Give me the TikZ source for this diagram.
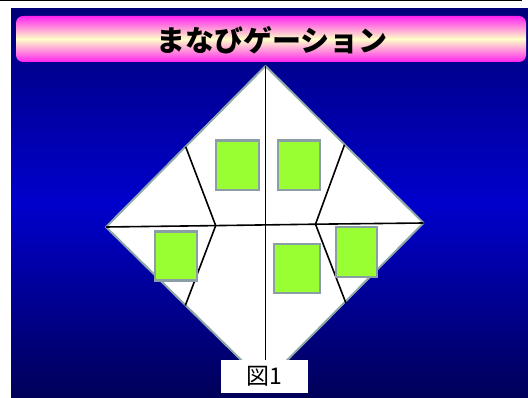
\documentclass[tikz,border=0pt]{standalone}
\usepackage{fontspec}
\newfontfamily\cjk{Noto Sans CJK JP}
\definecolor{bgtop}{HTML}{000078}
\definecolor{bgmid}{HTML}{0000CC}
\definecolor{bgbot}{HTML}{000058}
\definecolor{titlemag}{HTML}{FF22F0}
\definecolor{titleyel}{HTML}{FFFFC8}
\definecolor{diaedge}{HTML}{8FA8A8}
\definecolor{cardedge}{HTML}{8A9EA6}
\definecolor{cardgreen}{HTML}{99FF33}
\begin{document}
\begin{tikzpicture}[x=1pt,y=-1pt,
  edge/.style={draw=diaedge, line width=2pt, line join=round},
  fold/.style={draw=black, line width=1.6pt},
  card/.style={draw=cardedge, fill=cardgreen, line width=2.2pt, inner sep=0pt, rectangle},
  figlabel/.style={fill=white, inner sep=0pt, minimum width=87pt, minimum height=32.5pt}
]
\useasboundingbox (0,0) rectangle (528,398);
\fill[white] (0,0) rectangle (528,398);
\fill[black] (0,0) rectangle (522,1.5);
\shade[top color=bgtop, bottom color=bgbot, middle color=bgmid] (11,9) rectangle (528,398);
% title bar
\shade[rounded corners=7pt, top color=titlemag, bottom color=titlemag, middle color=titleyel] (16,16) rectangle (526,62);
\node[inner sep=0pt] (title) at (272,40) {\cjk\bfseries\fontsize{29}{30}\selectfont まなびゲーション};
% diamond
\coordinate (T) at (265.5,66);
\coordinate (L) at (106,227);
\coordinate (R) at (423.5,223);
\coordinate (B) at (264.5,383);
\coordinate (ML) at (215.7,225.6);
\coordinate (MR) at (315.5,224.2);
\coordinate (TLm) at (185.7,146.8);
\coordinate (TRm) at (344.5,144.8);
\coordinate (BLm) at (185.3,305.5);
\coordinate (BRm) at (346,303.3);
\draw[edge, fill=white] (T) -- (R) -- (B) -- (L) -- cycle;
% label box
\node[figlabel] (fig) at (264.5,376.25) {\cjk\fontsize{23}{24}\selectfont 図1};
% folds
\draw[fold] (L) -- (ML) -- (MR) -- (R);
\draw[fold] (T) -- (T |- fig.north);
\draw[fold] (TLm) -- (ML) -- (BLm);
\draw[fold] (TRm) -- (MR) -- (BRm);
% cards
\node[card, minimum width=43pt, minimum height=49.5pt] (c1) at (237.5,165.25) {};
\node[card, minimum width=42pt, minimum height=49.5pt] (c2) at (299,165.25) {};
\node[card, minimum width=42pt, minimum height=49pt] (c3) at (176,256) {};
\node[card, minimum width=46pt, minimum height=48.7pt] (c4) at (297,268.3) {};
\node[card, minimum width=41.3pt, minimum height=49.4pt] (c5) at (356.7,252) {};
\end{tikzpicture}
\end{document}
